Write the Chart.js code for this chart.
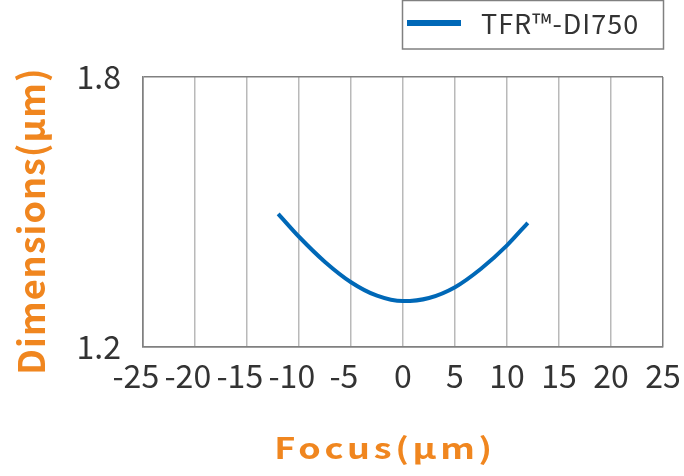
<!DOCTYPE html>
<html lang="en">
<head>
    <meta charset="UTF-8">
    <title>Dimensions vs Focus</title>
    <style>
        html, body {
            margin: 0;
            padding: 0;
            background-color: white;
        }
        .chart-container {
            width: 684px;
            height: 476px;
        }
    </style>
</head>
<body>
    <div class="chart-container">
        <canvas id="focusChart"></canvas>
    </div>

    <script src="https://cdn.jsdelivr.net/npm/chart.js"></script>
    <script>
        // Data
        const seriesName = 'TFR\u2122-DI750';
        const focusValues = [-12, -10, -7.5, -5, -2.5, 0, 2.5, 5, 7.5, 10, 12];
        const dimensionValues = [1.496, 1.445, 1.389, 1.344, 1.314, 1.302, 1.309, 1.333, 1.374, 1.426, 1.476];
        const xTicks = [-25, -20, -15, -10, -5, 0, 5, 10, 15, 20, 25];
        const yTicks = [1.2, 1.8];

        const orange = '#f0861f';
        const blue = '#0068b7';
        const frameColor = '#808080';
        const gridColor = '#b9b9b9';
        const baseFont = '"Noto Sans CJK JP", "Noto Sans", sans-serif';

        // axis titles and legend box
        const decorations = {
            id: 'decorations',
            afterDraw(chart) {
                const ctx = chart.ctx;
                ctx.save();

                // legend box
                ctx.strokeStyle = frameColor;
                ctx.lineWidth = 1.5;
                ctx.strokeRect(402.5, 0.5, 261, 48.5);
                ctx.fillStyle = blue;
                ctx.fillRect(407, 20, 54, 6);
                ctx.fillStyle = '#333';
                ctx.font = '27px ' + baseFont;
                ctx.textBaseline = 'middle';
                ctx.textAlign = 'left';
                ctx.letterSpacing = '1px';
                ctx.fillText(chart.data.datasets[0].label, 481, 24);

                // x title (wide lettering)
                ctx.fillStyle = orange;
                ctx.textAlign = 'center';
                ctx.font = 'bold 29px ' + baseFont;
                ctx.letterSpacing = '3px';
                ctx.save();
                ctx.translate(385, 448);
                ctx.scale(1.24, 1);
                ctx.fillText('Focus(\u03bcm)', 0, 0);
                ctx.restore();

                // y title
                ctx.font = 'bold 36px ' + baseFont;
                ctx.letterSpacing = '1px';
                ctx.translate(31, 221);
                ctx.rotate(-Math.PI / 2);
                ctx.fillText('Dimensions(\u03bcm)', 0, 0);
                ctx.restore();
            }
        };

        const ctx = document.getElementById('focusChart').getContext('2d');
        const focusChart = new Chart(ctx, {
            type: 'scatter',
            data: {
                datasets: [{
                    label: seriesName,
                    data: focusValues.map((x, i) => ({ x: x, y: dimensionValues[i] })),
                    showLine: true,
                    borderColor: blue,
                    borderWidth: 4,
                    pointRadius: 0,
                    cubicInterpolationMode: 'monotone'
                }]
            },
            options: {
                responsive: true,
                maintainAspectRatio: false,
                animation: false,
                layout: {
                    padding: { top: 77, right: 21, bottom: 0, left: 0 }
                },
                plugins: {
                    legend: { display: false },
                    tooltip: { enabled: false }
                },
                scales: {
                    x: {
                        type: 'linear',
                        min: -25,
                        max: 25,
                        afterBuildTicks: (scale) => {
                            scale.ticks = xTicks.map(v => ({ value: v }));
                        },
                        afterFit: (scale) => {
                            scale.height = 129;
                            scale.paddingLeft = 0;
                            scale.paddingRight = 0;
                        },
                        ticks: {
                            autoSkip: false,
                            maxRotation: 0,
                            padding: 10,
                            color: '#333',
                            font: { family: baseFont, size: 32 },
                            // minus sign hangs to the left of the gridline
                            callback: (v) => v < 0 ? v + '  ' : String(v)
                        },
                        grid: {
                            drawTicks: false,
                            lineWidth: 1.5,
                            color: (c) => (c.tick && Math.abs(c.tick.value) === 25) ? frameColor : gridColor
                        },
                        border: { display: true, color: frameColor, width: 1.5 }
                    },
                    y: {
                        min: 1.2,
                        max: 1.8,
                        afterBuildTicks: (scale) => {
                            scale.ticks = yTicks.map(v => ({ value: v }));
                        },
                        afterFit: (scale) => {
                            scale.width = 143;
                            scale.paddingTop = 0;
                            scale.paddingBottom = 0;
                        },
                        ticks: {
                            padding: 22,
                            color: '#333',
                            font: { family: baseFont, size: 32 },
                            callback: (v) => v.toFixed(1)
                        },
                        grid: {
                            drawTicks: false,
                            lineWidth: 1.5,
                            color: frameColor
                        },
                        border: { display: true, color: frameColor, width: 1.5 }
                    }
                }
            },
            plugins: [decorations]
        });
    </script>
</body>
</html>
